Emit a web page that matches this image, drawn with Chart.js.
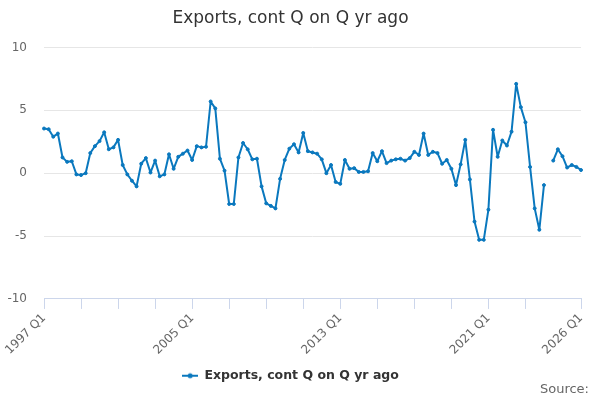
<!DOCTYPE html>
<html>
<head>
<meta charset="utf-8">
<script src="https://cdn.jsdelivr.net/npm/chart.js@4.4.1/dist/chart.umd.min.js"></script>
<style>
  html, body { margin: 0; padding: 0; background: #fff; }
  #wrap { width: 600px; height: 400px; }
</style>
</head>
<body>
<div id="wrap"><canvas id="chart"></canvas></div>
<script>
// quarters 1997 Q1 .. 2026 Q1
const firstYear = 1997;
const lastYear = 2026;
const quarterLabels = [];
for (let y = firstYear; y <= lastYear; y++) {
    for (let q = 1; q <= 4; q++) {
        if (y === lastYear && q > 1) break;
        quarterLabels.push(y + ' Q' + q);
    }
}

const seriesName = 'Exports, cont Q on Q yr ago';
const exportsValues = [
    3.55, 3.5, 2.9, 3.15, 1.25, 0.9, 0.95, -0.1, -0.15, 0.0,
    1.6, 2.15, 2.55, 3.25, 1.9, 2.05, 2.65, 0.65, -0.1, -0.6,
    -1.05, 0.75, 1.2, 0.05, 1.0, -0.25, -0.1, 1.5, 0.35, 1.3,
    1.55, 1.8, 1.05, 2.15, 2.05, 2.1, 5.7, 5.15, 1.15, 0.2,
    -2.45, -2.45, 1.25, 2.4, 1.9, 1.1, 1.15, -1.05, -2.4, -2.6,
    -2.8, -0.45, 1.05, 1.95, 2.3, 1.65, 3.2, 1.75, 1.65, 1.55,
    1.1, 0.0, 0.65, -0.7, -0.85, 1.05, 0.35, 0.4, 0.1, 0.1,
    0.15, 1.6, 0.95, 1.75, 0.8, 1.0, 1.1, 1.15, 1.0, 1.2,
    1.7, 1.45, 3.15, 1.45, 1.7, 1.6, 0.75, 1.05, 0.35, -0.95,
    0.7, 2.65, -0.5, -3.85, -5.3, -5.3, -2.9, 3.45, 1.3, 2.6,
    2.2, 3.3, 7.1, 5.25, 4.05, 0.5, -2.8, -4.5, -0.95, null,
    1.0, 1.9, 1.35, 0.45, 0.65, 0.5, 0.25
];

// tick labels shown on the x axis, and where the small tick marks go
const shownLabels = ['1997 Q1', '2005 Q1', '2013 Q1', '2021 Q1', '2026 Q1'];
const tickMarkLabels = [
    '1997 Q1', '1999 Q1', '2001 Q1', '2003 Q1', '2005 Q1', '2007 Q1', '2009 Q1',
    '2011 Q1', '2013 Q1', '2015 Q1', '2017 Q1', '2019 Q1', '2021 Q1', '2023 Q1', '2026 Q1'
];
const yTicks = [-10, -5, 0, 5, 10];

const LINE_COLOR = '#0a78be';
const FONT = "'DejaVu Sans', sans-serif";

// little line + dot icon for the legend
const legendIcon = document.createElement('canvas');
legendIcon.width = 16;
legendIcon.height = 8;
const ic = legendIcon.getContext('2d');
ic.strokeStyle = LINE_COLOR;
ic.lineWidth = 2;
ic.beginPath();
ic.moveTo(0, 4);
ic.lineTo(16, 4);
ic.stroke();
ic.fillStyle = LINE_COLOR;
ic.beginPath();
ic.arc(8, 4, 2.5, 0, Math.PI * 2);
ic.fill();

const sourcePlugin = {
    id: 'sourceText',
    afterDraw(chart) {
        const ctx = chart.ctx;
        ctx.save();
        ctx.font = '13px ' + FONT;
        ctx.fillStyle = '#666';
        ctx.textAlign = 'right';
        ctx.textBaseline = 'middle';
        ctx.fillText('Source:', chart.width - 11, chart.height - 10);
        ctx.restore();
    }
};

const ctx = document.getElementById('chart').getContext('2d');
new Chart(ctx, {
    type: 'line',
    data: {
        labels: quarterLabels,
        datasets: [{
            label: seriesName,
            data: exportsValues,
            borderColor: LINE_COLOR,
            backgroundColor: LINE_COLOR,
            borderWidth: 2,
            borderJoinStyle: 'round',
            borderCapStyle: 'round',
            pointRadius: 1.5,
            pointBorderWidth: 1,
            pointHoverRadius: 2,
            tension: 0,
            spanGaps: false
        }]
    },
    options: {
        responsive: true,
        maintainAspectRatio: false,
        animation: false,
        layout: { padding: { top: 0, right: 19, bottom: 8, left: 0 } },
        plugins: {
            title: {
                display: true,
                text: 'Exports, cont Q on Q yr ago',
                color: '#333',
                font: { family: FONT, size: 17, weight: 'normal' },
                padding: { top: 8, bottom: 19 }
            },
            legend: {
                position: 'bottom',
                labels: {
                    usePointStyle: true,
                    pointStyleWidth: 16,
                    color: '#333',
                    font: { family: FONT, size: 12.5, weight: 'bold' },
                    generateLabels: chart =>
                        Chart.defaults.plugins.legend.labels.generateLabels(chart)
                            .map(l => Object.assign(l, { pointStyle: legendIcon }))
                }
            },
            tooltip: { enabled: false }
        },
        scales: {
            x: {
                grid: {
                    drawOnChartArea: false,
                    tickLength: 10,
                    tickColor: c => tickMarkLabels.includes(quarterLabels[c.index])
                        ? '#ccd6eb' : 'rgba(0,0,0,0)'
                },
                border: { color: '#ccd6eb' },
                ticks: {
                    autoSkip: false,
                    maxRotation: 45,
                    minRotation: 45,
                    padding: 2,
                    color: '#666',
                    font: { family: FONT, size: 12 },
                    callback: function(value) {
                        const lbl = this.getLabelForValue(value);
                        return shownLabels.includes(lbl) ? lbl : '';
                    }
                }
            },
            y: {
                min: -10,
                max: 10,
                afterFit: scale => { scale.width = 44; },
                afterBuildTicks: scale => {
                    scale.ticks = yTicks.map(v => ({ value: v }));
                },
                grid: { color: '#e6e6e6', drawTicks: false },
                border: { display: false },
                ticks: {
                    padding: 17,
                    color: '#666',
                    font: { family: FONT, size: 12 }
                }
            }
        }
    },
    plugins: [sourcePlugin]
});
</script>
</body>
</html>
